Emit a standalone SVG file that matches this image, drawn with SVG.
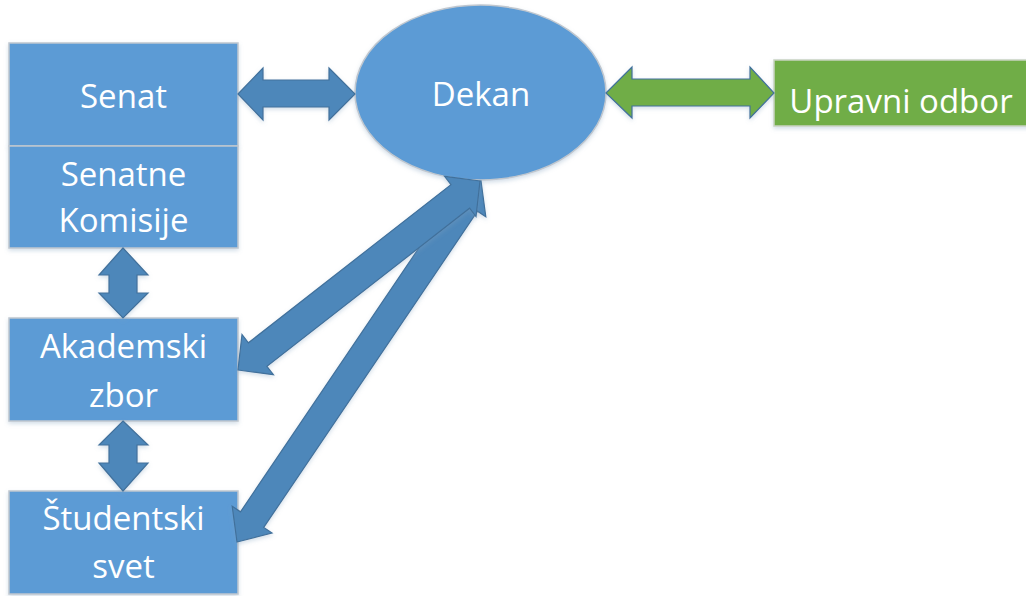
<svg xmlns="http://www.w3.org/2000/svg" width="1026" height="596" viewBox="0 0 1026 596">
<defs>
<filter id="sh" x="-10%" y="-10%" width="120%" height="130%">
<feDropShadow dx="0" dy="2" stdDeviation="2" flood-color="#7f9fbf" flood-opacity="0.35"/>
</filter>
<style>
.box{fill:#5B9BD5;stroke:#C0C7CF;stroke-width:1.5;filter:url(#sh)}
.green{fill:#70AD47;stroke:#C9D3C2;stroke-width:1.5;filter:url(#sh)}
.arr{fill:#4E87BA;stroke:#41719C;stroke-width:1.2;stroke-linejoin:miter;filter:url(#sh)}
.garr{fill:#70AD47;stroke:#41719C;stroke-width:1.2;filter:url(#sh)}
.t{font-family:"Open Sans","Noto Sans",sans-serif;font-size:33px;fill:#FFFFFF;text-anchor:middle}
</style>
</defs>
<rect width="1026" height="596" fill="#FFFFFF"/>
<g id="senat"><rect class="box" x="9" y="43" width="229" height="103"/><text class="t" x="123.5" y="108">Senat</text></g>
<g id="senatne-komisije"><rect class="box" x="9" y="146" width="229" height="102"/><text class="t" x="123.5" y="186">Senatne</text><text class="t" x="123.5" y="232">Komisije</text></g>
<g id="akademski-zbor"><rect class="box" x="9" y="318" width="229" height="103"/><text class="t" x="123.5" y="358">Akademski</text><text class="t" x="123.5" y="407">zbor</text></g>
<g id="studentski-svet"><rect class="box" x="9" y="491" width="229" height="103"/><text class="t" x="123.5" y="530">Študentski</text><text class="t" x="123.5" y="578">svet</text></g>
<g id="dekan"><ellipse class="box" cx="480.5" cy="92.5" rx="125.5" ry="87.5"/><text class="t" x="481" y="106">Dekan</text></g>
<g id="upravni-odbor"><rect class="green" x="774" y="60" width="262" height="66"/><text class="t" x="901" y="113">Upravni odbor</text></g>
<g id="connectors">
<polygon class="arr" points="238,94 263,68 263,80 329,80 329,68 355,94 329,120 329,107 263,107 263,120"/>
<polygon class="garr" points="606,93 632,67 632,79 750,79 750,67 774,93 750,118 750,106 632,106 632,118"/>
<polygon class="arr" points="123,248 148,275 137,275 137,293 148,293 123,318 99,293 109,293 109,275 99,275"/>
<polygon class="arr" points="123,421 148,445 137,445 137,463 148,463 123,491 99,463 109,463 109,445 99,445"/>
<polygon class="arr" points="237,542 272.0,533.0 263.7,527.4 477.5,211.2 485.8,216.8 481,181 446.0,190.0 454.3,195.6 240.5,511.8 232.2,506.2"/>
<polygon class="arr" points="238,370 273.4,374.7 266.9,366.4 469.6,208.2 476.0,216.5 480,181 444.6,176.3 451.0,184.6 248.4,342.8 242.0,334.5"/>
</g>
</svg>
